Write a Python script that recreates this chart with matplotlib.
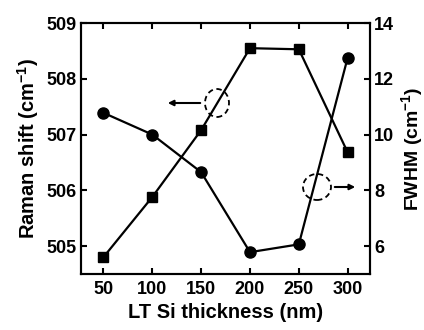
import matplotlib.pyplot as plt
from matplotlib.patches import Ellipse

plt.rcParams['font.family'] = 'Liberation Sans'
plt.rcParams['font.weight'] = 'bold'
plt.rcParams['mathtext.fontset'] = 'custom'
plt.rcParams['mathtext.rm'] = 'Liberation Sans:bold'
plt.rcParams['mathtext.it'] = 'Liberation Sans:bold'
plt.rcParams['mathtext.bf'] = 'Liberation Sans:bold'

# LT Si layer thickness (nm)
thickness = [50, 100, 150, 200, 250, 300]
# Raman peak position (cm-1), left axis
raman_shift = [504.8, 505.88, 507.08, 508.55, 508.53, 506.68]
# Peak width (cm-1), right axis
fwhm = [10.78, 10.0, 8.65, 5.78, 6.06, 12.76]

fig = plt.figure(figsize=(4.24, 3.30), dpi=100)
ax = fig.add_axes([0.191, 0.170, 0.682, 0.760])
ax2 = ax.twinx()

ax.plot(thickness, raman_shift, color='black', lw=1.6, marker='s', ms=7)
ax2.plot(thickness, fwhm, color='black', lw=1.6, marker='o', ms=8)

ax.set_xlim(27, 323)
ax.set_ylim(504.5, 509)
ax2.set_ylim(5, 14)
ax.set_xticks(thickness)
ax.set_yticks([505, 506, 507, 508, 509])
ax2.set_yticks([6, 8, 10, 12, 14])

ax.set_xlabel('LT Si thickness (nm)', fontsize=14.5, fontweight='bold', labelpad=4)
ax.set_ylabel('Raman shift (cm$^{-1}$)', fontsize=14.5, fontweight='bold', labelpad=4)
ax2.set_ylabel('FWHM (cm$^{-1}$)', fontsize=14, fontweight='bold', labelpad=3)

for a in (ax, ax2):
    for s in a.spines.values():
        s.set_linewidth(1.5)
ax.tick_params(axis='x', direction='in', top=True, length=4, width=1.5,
               labelsize=13, pad=5)
ax.tick_params(axis='y', direction='in', length=4, width=1.5, labelsize=13, pad=3)
ax2.tick_params(axis='y', direction='in', length=4, width=1.5, labelsize=13, pad=3)

# dashed markers pointing each curve to its axis (figure pixels, origin bottom-left)
ax.add_patch(Ellipse((217, 227), 24, 28, transform=None, fill=False,
                     ls=(0, (3, 2)), lw=1.3, color='black'))
ax.annotate('', xy=(165, 227), xytext=(203, 227), xycoords='figure pixels',
            textcoords='figure pixels',
            arrowprops=dict(arrowstyle='-|>', color='black', lw=1.5,
                            mutation_scale=8))
ax.add_patch(Ellipse((317, 143), 28, 26, transform=None, fill=False,
                     ls=(0, (3, 2)), lw=1.3, color='black'))
ax.annotate('', xy=(358, 143), xytext=(332, 143), xycoords='figure pixels',
            textcoords='figure pixels',
            arrowprops=dict(arrowstyle='-|>', color='black', lw=1.5,
                            mutation_scale=8))

fig.savefig('out.png', dpi=100)
